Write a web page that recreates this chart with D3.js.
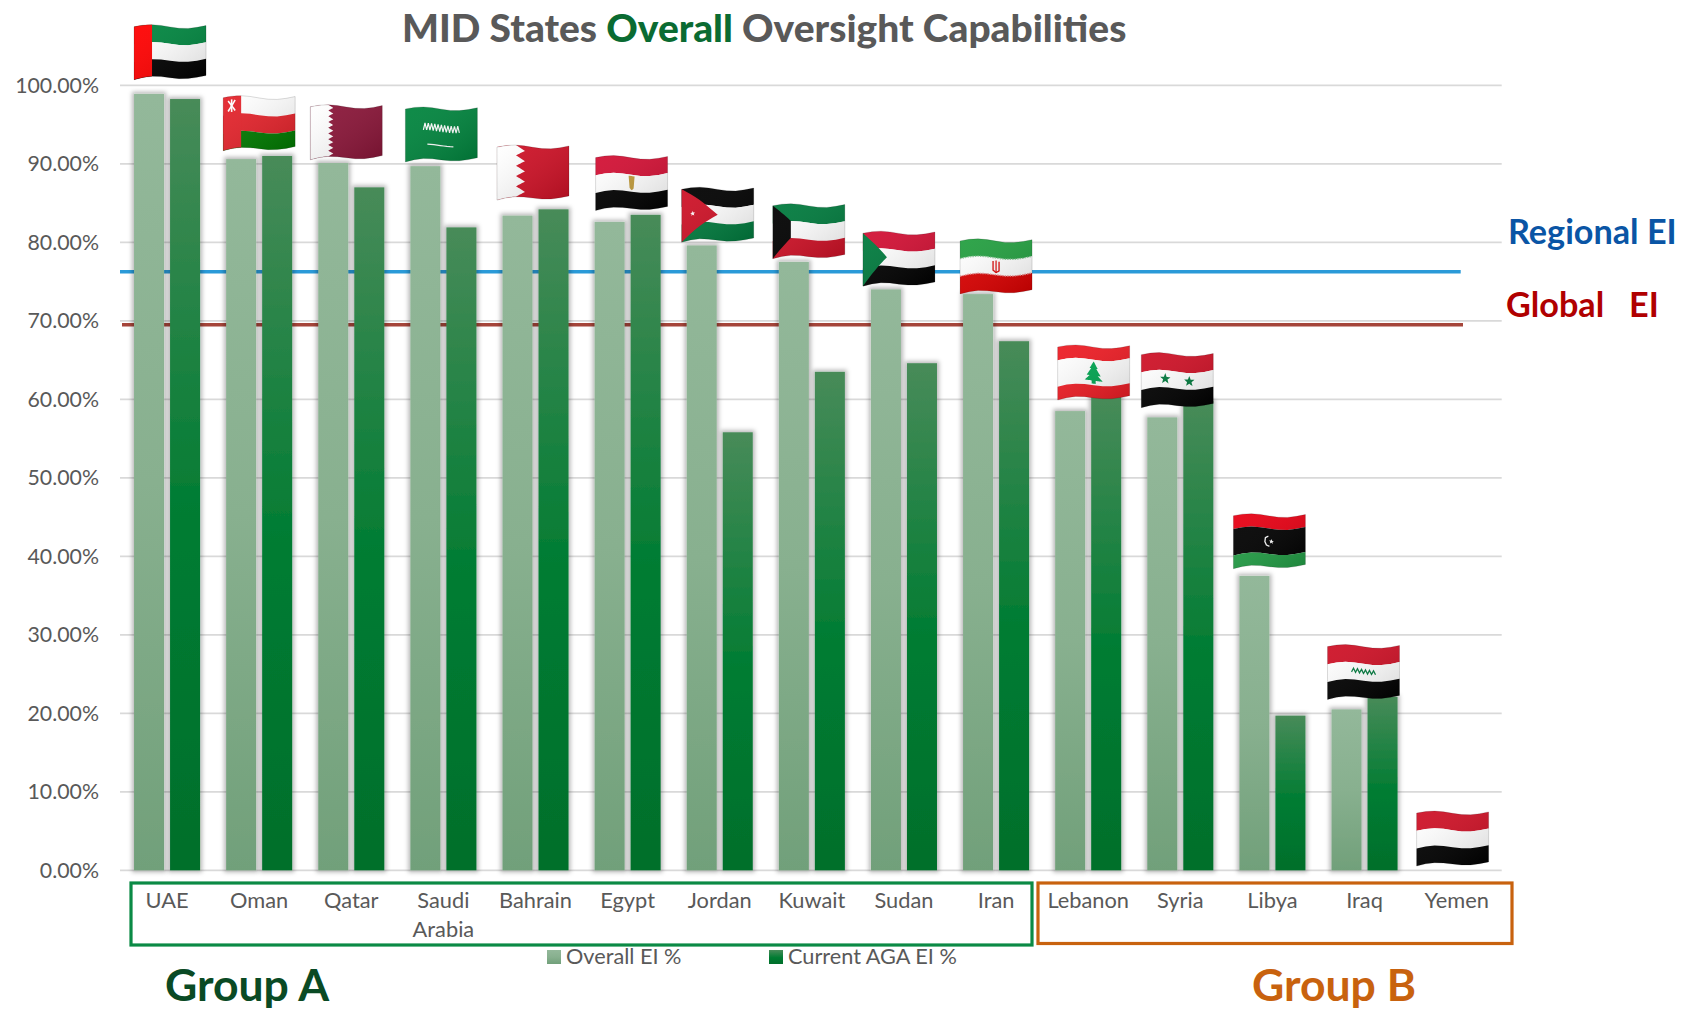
<!DOCTYPE html>
<html>
<head>
<meta charset="utf-8">
<script src="https://cdn.jsdelivr.net/npm/d3@7/dist/d3.min.js"></script>
<style>
html, body { margin: 0; padding: 0; background: #fff; }
svg { display: block; font-family: Lato, "Open Sans", sans-serif; }
.axis text { fill: #595959; font-family: Lato, "Open Sans", sans-serif; }
.axis .domain { display: none; }
</style>
</head>
<body>
<div id="chart"></div>
<script>
const categories = ['UAE', 'Oman', 'Qatar', 'Saudi Arabia', 'Bahrain', 'Egypt', 'Jordan', 'Kuwait', 'Sudan', 'Iran', 'Lebanon', 'Syria', 'Libya', 'Iraq', 'Yemen']
const overallEI = [98.9, 90.6, 90.1, 89.7, 83.4, 82.6, 79.6, 77.5, 74.0, 73.4, 58.5, 57.7, 37.5, 20.5, 0]
const currentAGA = [98.25, 91.0, 87.0, 81.9, 84.2, 83.5, 55.8, 63.5, 64.6, 67.4, 60.4, 59.8, 19.7, 22.1, 0]
const seriesNames = ['Overall EI %', 'Current AGA EI %']
const yTicks = [0, 10, 20, 30, 40, 50, 60, 70, 80, 90, 100]
const regionalEI = 76.25
const globalEI = 69.5

const width = 1683, height = 1010

// flag placement, relative to the group of bars below it
const flagDx = [0, -3, -8, -5, -5.5, 1, -5, -6, -8, -3, 2.5, -6, -6, -4, -7]
const flagGap = [15, 6, 4, 5, 10, 5, 4, 4, 4, 1, -3, -6, 8, -2, 5]

let svg = d3.select('#chart').append('svg')
	.attr('width', width)
	.attr('height', height)

let defs = svg.append('defs')

let x0 = d3.scaleBand().domain(categories).range([121, 1502.7]).paddingInner(0.283).paddingOuter(0.1415)
let x1 = d3.scaleBand().domain(seriesNames).range([0, x0.bandwidth()]).paddingInner(1 / 6)
let y = d3.scaleLinear().domain([0, 100]).range([870.3, 85.3])

function addGradient(id, stops) {
	let g = defs.append('linearGradient').attr('id', id).attr('x1', 0).attr('x2', 0).attr('y1', 0).attr('y2', 1)
	stops.forEach(s => g.append('stop').attr('offset', s[0]).attr('stop-color', s[1]))
}
addGradient('gradOverall', [[0, '#93b89a'], [0.5, '#88b08f'], [1, '#71a07a']])
addGradient('gradCurrent', [[0, '#488b59'], [0.55, '#007c32'], [1, '#006f2b']])

// soft grey halo round each bar
let shadow = defs.append('filter').attr('id', 'barShadow')
	.attr('x', '-50%').attr('width', '200%').attr('y', '-5%').attr('height', '110%')
shadow.append('feMorphology').attr('in', 'SourceAlpha').attr('operator', 'dilate').attr('radius', 2).attr('result', 'fat')
shadow.append('feGaussianBlur').attr('in', 'fat').attr('stdDeviation', 2).attr('result', 'soft')
shadow.append('feFlood').attr('flood-color', '#000').attr('flood-opacity', 0.28).attr('result', 'tint')
shadow.append('feComposite').attr('in', 'tint').attr('in2', 'soft').attr('operator', 'in').attr('result', 'halo')
let merge = shadow.append('feMerge')
merge.append('feMergeNode').attr('in', 'halo')
merge.append('feMergeNode').attr('in', 'SourceGraphic')

let sheen = defs.append('linearGradient').attr('id', 'flagSheen')
	.attr('x1', 0).attr('y1', 0).attr('x2', 1).attr('y2', 1)
sheen.append('stop').attr('offset', 0).attr('stop-color', '#fff').attr('stop-opacity', 0.06)
sheen.append('stop').attr('offset', 1).attr('stop-color', '#000').attr('stop-opacity', 0.16)

// grid + axis
let yAxis = d3.axisLeft(y).tickValues(yTicks).tickSize(0).tickPadding(0).tickFormat(d => d3.format('.2f')(d) + '%')
let yG = svg.append('g').attr('class', 'axis').attr('transform', 'translate(99,0)').call(yAxis)
yG.attr('font-family', null).selectAll('text').style('font-size', '21.3px')

svg.append('g').selectAll('line')
	.data(yTicks)
	.enter()
	.append('line')
	.attr('x1', 120).attr('x2', 1501.7)
	.attr('y1', d => y(d)).attr('y2', d => y(d))
	.attr('stroke', '#d9d9d9').attr('stroke-width', 1.8)

// reference lines sit behind the bars
svg.append('line').attr('x1', 120).attr('x2', 1460.7)
	.attr('y1', y(regionalEI)).attr('y2', y(regionalEI))
	.attr('stroke', '#2a9ad8').attr('stroke-width', 3.5)
svg.append('line').attr('x1', 122).attr('x2', 1463)
	.attr('y1', y(globalEI)).attr('y2', y(globalEI))
	.attr('stroke', '#a5453a').attr('stroke-width', 3.5)

// bars
let seriesValues = [overallEI, currentAGA]
let grads = ['url(#gradOverall)', 'url(#gradCurrent)']
seriesNames.forEach((name, s) => {
	svg.append('g').selectAll('rect')
		.data(categories.filter((c, i) => seriesValues[s][i] > 0))
		.enter()
		.append('rect')
		.attr('x', c => x0(c) + x1(name))
		.attr('width', x1.bandwidth())
		.attr('y', c => y(seriesValues[s][categories.indexOf(c)]))
		.attr('height', c => y(0) - y(seriesValues[s][categories.indexOf(c)]))
		.attr('fill', grads[s])
		.attr('filter', 'url(#barShadow)')
})

// category labels
let xAxis = d3.axisBottom(x0).tickSize(0).tickPadding(0)
let xG = svg.append('g').attr('class', 'axis').attr('transform', 'translate(0,887)').call(xAxis)
xG.attr('font-family', null).selectAll('text').style('font-size', '21.8px').attr('y', 0).attr('dy', '0.95em')
xG.selectAll('text').each(function(d) {
	let words = d.split(' ')
	if (words.length < 2) return
	let t = d3.select(this).text(null)
	words.forEach((w, i) => t.append('tspan').attr('x', 0).attr('dy', i == 0 ? '0.95em' : '1.33em').text(w))
})

// group boxes
svg.append('rect').attr('x', 131).attr('y', 883).attr('width', 901).attr('height', 62)
	.attr('fill', 'none').attr('stroke', '#0b8a45').attr('stroke-width', 3.2)
svg.append('rect').attr('x', 1038).attr('y', 883).attr('width', 474).attr('height', 60.5)
	.attr('fill', 'none').attr('stroke', '#c8620e').attr('stroke-width', 3.2)

// legend
let legendX = [547, 769]
let legend = svg.append('g').selectAll('g').data(seriesNames).enter().append('g')
	.attr('transform', (d, i) => `translate(${legendX[i]},950)`)
legend.append('rect').attr('width', 14).attr('height', 14).attr('fill', (d, i) => grads[i])
legend.append('text').attr('x', 19).attr('y', 14).style('font-size', '21.7px').style('fill', '#595959').text(d => d)

// title + annotations
let title = svg.append('text').attr('x', 402).attr('y', 41.5)
	.style('font-size', '38.9px').style('font-weight', 900).style('fill', '#595959')
title.append('tspan').text('MID States ')
title.append('tspan').style('fill', '#0a6b32').text('Overall')
title.append('tspan').text(' Oversight Capabilities')

svg.append('text').attr('x', 165).attr('y', 1001).text('Group A')
	.style('font-size', '44.5px').style('font-weight', 700).style('fill', '#0a4a24')
svg.append('text').attr('x', 1252).attr('y', 1001).text('Group B')
	.style('font-size', '44.5px').style('font-weight', 700).style('fill', '#c8620e')
svg.append('text').attr('x', 1508).attr('y', 244).text('Regional EI')
	.style('font-size', '34.2px').style('font-weight', 700).style('fill', '#0a55a5')
svg.append('text').attr('x', 1506).attr('y', 317).text('Global   EI')
	.style('font-size', '34.2px').style('font-weight', 700).style('fill', '#b00000').style('white-space', 'pre')

// flags, drawn in a 72x50 box and then bent along a wave
const fw = 72, fh = 50

function bend(p) {
	let t = p[0] / fw
	let wave = 2.2 - 2.2 * Math.cos(2 * Math.PI * (t - 0.22)) - 1.2 * t
	return [p[0], p[1] + wave + (p[1] / fh) * 3 * (1 - t) * (1 - t)]
}

function dense(pts, closed) {
	let out = []
	let n = closed ? pts.length : pts.length - 1
	for (let i = 0; i < n; i++) {
		let a = pts[i], b = pts[(i + 1) % pts.length]
		for (let k = 0; k < 8; k++) out.push([a[0] + (b[0] - a[0]) * k / 8, a[1] + (b[1] - a[1]) * k / 8])
	}
	if (!closed) out.push(pts[pts.length - 1])
	return out
}

let lineGen = d3.line()
const poly = (pts, fill) => ({ d: lineGen(dense(pts, true).map(bend)) + 'Z', fill: fill })
const stroke = (pts, color, w, dash) => ({ d: lineGen(dense(pts, false).map(bend)), stroke: color, w: w, dash: dash })
const box = (x0, y0, x1, y1, fill) => poly([[x0, y0], [x1, y0], [x1, y1], [x0, y1]], fill)

function stripes(a, b, c, cut1, cut2) {
	return [box(0, 0, fw, cut1 || fh / 3, a), box(0, cut1 || fh / 3, fw, cut2 || fh * 2 / 3, b), box(0, cut2 || fh * 2 / 3, fw, fh, c)]
}

function star(cx, cy, r, fill) {
	let pts = []
	for (let i = 0; i < 10; i++) {
		let rr = i % 2 ? r * 0.42 : r
		let a = -Math.PI / 2 + i * Math.PI / 5
		pts.push([cx + rr * Math.cos(a), cy + rr * Math.sin(a)])
	}
	return poly(pts, fill)
}

function zigzag(xBase, xTip, teeth) {
	let pts = [[0, 0], [xBase, 0]]
	for (let i = 0; i < teeth; i++) {
		pts.push([xTip, fh * (i + 0.5) / teeth])
		pts.push([xBase, fh * (i + 1) / teeth])
	}
	pts.push([0, fh])
	return pts
}

function script(x0, x1, yy, amp, n, color, w) {
	let pts = []
	for (let i = 0; i <= n; i++) pts.push([x0 + (x1 - x0) * i / n, yy + (i % 2 ? -amp : amp * 0.5)])
	return stroke(pts, color, w)
}

const red = '#d21034', green = '#00853f', white = '#fff', black = '#000'

const flags = {
	'UAE': [...stripes(green, white, black), box(0, 0, 18, fh, '#ff0000')],
	'Oman': [...stripes(white, '#e4232b', '#007a00', 17, 34), box(0, 0, 18, fh, '#e4232b'),
		stroke([[5, 4], [12, 14]], white, 1.6), stroke([[12, 4], [5, 14]], white, 1.6), stroke([[8.5, 3], [8.5, 15]], white, 1.6)],
	'Qatar': [box(0, 0, fw, fh, '#8a1538'), poly(zigzag(18, 23, 9), white)],
	'Saudi Arabia': [box(0, 0, fw, fh, '#00843d'), script(18, 54, 20, 4.5, 22, white, 1.2),
		stroke([[22, 36], [48, 36]], white, 1.2)],
	'Bahrain': [box(0, 0, fw, fh, '#ce1126'), poly(zigzag(19, 28, 5), white)],
	'Egypt': [...stripes(red, white, black), poly([[33, 18], [39, 18], [38, 30], [36, 32], [34, 30]], '#c09a3a')],
	'Jordan': [...stripes(black, white, '#007a3d'), poly([[0, 0], [36, fh / 2], [0, fh]], '#ce1126'), star(11, 25, 2.6, white)],
	'Kuwait': [...stripes('#007a3d', white, '#ce1126'), poly([[0, 0], [18, 16.7], [18, 33.3], [0, fh]], black)],
	'Sudan': [...stripes(red, white, black), poly([[0, 0], [24, fh / 2], [0, fh]], '#007a3d')],
	'Iran': [...stripes('#239f40', white, '#da0000'), stroke([[0, 16.7], [fw, 16.7]], '#8cc79a', 1.4, '1.5 1'), stroke([[0, 33.3], [fw, 33.3]], '#eb8f8f', 1.4, '1.5 1'),
		stroke([[33, 20], [33, 29], [36, 31], [39, 29], [39, 20]], '#da0000', 1.3), stroke([[36, 19], [36, 31]], '#da0000', 1.2)],
	'Lebanon': [...stripes('#ed1c24', white, '#ed1c24', 12.5, 37.5), poly([[36, 14], [40, 21], [38.5, 21], [43, 28], [40, 28], [45, 33], [38, 33], [38, 36], [34, 36], [34, 33], [27, 33], [32, 28], [29, 28], [33.5, 21], [32, 21]], '#00a651')],
	'Syria': [...stripes('#ce1126', white, black), star(24, 25, 5.5, '#007a3d'), star(48, 25, 5.5, '#007a3d')],
	'Libya': [box(0, 0, fw, 12.5, '#e70013'), box(0, 12.5, fw, 37.5, black), box(0, 37.5, fw, fh, '#239e46'),
		stroke([[35, 20], [32, 22], [31.5, 26], [33, 29], [36, 30]], white, 1.3), star(38, 25, 2.6, white)],
	'Iraq': [...stripes('#ce1126', white, black), script(24, 48, 25, 2.5, 12, '#007a3d', 1.3)],
	'Yemen': stripes('#ce1126', white, black)
}

let flagG = svg.append('g').selectAll('g')
	.data(categories)
	.enter()
	.append('g')
	.attr('class', 'flag')
	.attr('transform', (c, i) => {
		let top = y(Math.max(overallEI[i], currentAGA[i]))
		return `translate(${x0(c) + flagDx[i]},${top - flagGap[i] - 54})`
	})

flagG.each(function(c) {
	let g = d3.select(this)
	g.selectAll('path.part')
		.data(flags[c])
		.enter()
		.append('path')
		.attr('class', 'part')
		.attr('d', s => s.d)
		.attr('fill', s => s.fill || 'none')
		.attr('stroke', s => s.stroke || 'none')
		.attr('stroke-width', s => s.w || 0)
		.attr('stroke-dasharray', s => s.dash || null)
	let outline = box(0, 0, fw, fh, 'none')
	g.append('path').attr('d', outline.d).attr('fill', 'url(#flagSheen)')
		.attr('stroke', '#000').attr('stroke-opacity', 0.16).attr('stroke-width', 0.9)
})
</script>
</body>
</html>
